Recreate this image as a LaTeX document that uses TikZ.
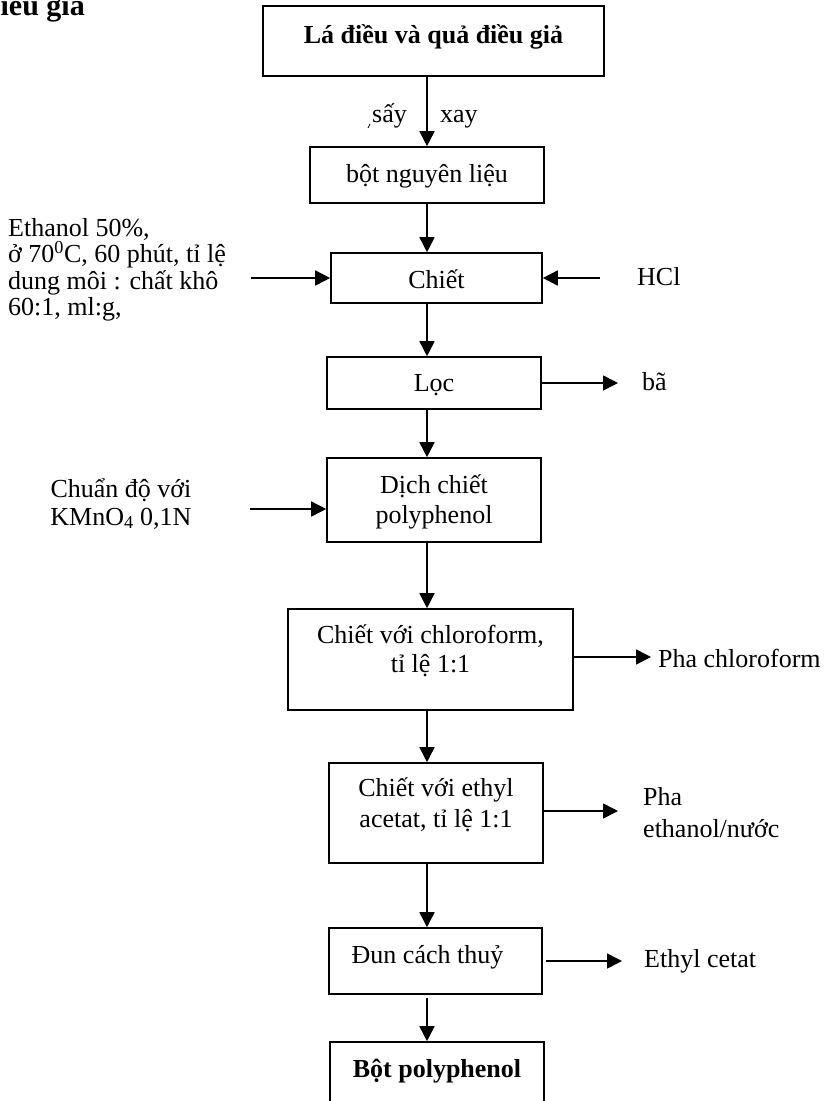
\documentclass[tikz,border=0pt]{standalone}
\usepackage{fontspec}
\setmainfont{Liberation Serif}
\usetikzlibrary{arrows.meta}
\begin{document}
\begin{tikzpicture}[x=1pt,y=-1pt,
  box/.style={draw, line width=1.6pt, inner sep=0pt, align=center, text height=22pt, font=\fontsize{26}{30}\selectfont},
  lbl/.style={inner sep=0pt, font=\fontsize{26}{30}\selectfont},
  arr/.style={line width=1.6pt, -{Triangle[length=15pt,width=15pt]}},
]
\useasboundingbox (0,0) rectangle (830,1101);
\fill[white] (0,0) rectangle (830,1101);

% heading fragment
\node[lbl, anchor=base east, font=\bfseries\fontsize{30}{34}\selectfont] (head) at (85,15) {điều giả};

% main boxes
\node[box, minimum width=341pt, minimum height=70pt, text depth=18pt, font=\bfseries\fontsize{26}{30}\selectfont] (top) at (433.5,41) {Lá điều và quả điều giả};
\node[box, minimum width=234pt, minimum height=56pt, text depth=8pt] (bot) at (427,175) {bột nguyên liệu};
\node[box, minimum width=211pt, minimum height=50pt, text depth=2pt] (chiet) at (436.5,278) {Chiết};
\node[box, minimum width=214pt, minimum height=52pt, text depth=5pt] (loc) at (434,383) {Lọc};
\node[box, minimum width=214pt, minimum height=84pt, text height=52pt, text depth=6pt] (dich) at (434,500) {Dịch chiết\\ polyphenol};
\node[box, minimum width=285pt, minimum height=101pt, text height=51pt, text depth=26pt, font=\fontsize{26}{29}\selectfont] (chloro) at (430.5,659.5) {Chiết với chloroform,\\ tỉ lệ 1:1};
\node[box, minimum width=214pt, minimum height=100pt, text height=53pt, text depth=25pt, font=\fontsize{26}{31}\selectfont] (ethyl) at (436,813) {Chiết với ethyl\\ acetat, tỉ lệ 1:1};
\node[box, minimum width=213pt, minimum height=66pt, text depth=18pt] (dun) at (435.5,961) {Đun cách thuỷ\hspace*{16pt}};
\node[box, minimum width=214pt, minimum height=68pt, text depth=20pt, font=\bfseries\fontsize{26}{30}\selectfont] (final) at (437,1076) {Bột polyphenol};

% side texts
\node[lbl, anchor=north west, align=left, text height=101.5pt, font=\fontsize{26}{26.5}\selectfont] (eth) at (8,214) {Ethanol 50\%,\\ ở 70\textsuperscript{0}C, 60 phút, tỉ lệ\\ dung môi : chất khô\\ 60:1, ml:g,};
\node[lbl, anchor=base west] (hcl) at (637,285) {HCl};
\node[lbl, anchor=base west] (ba) at (642,390) {bã};
\node[lbl, anchor=north, align=center, text height=50pt, font=\fontsize{26}{28}\selectfont] (kmno) at (121,475) {Chuẩn độ với\\ KMnO\textsubscript{4} 0,1N};
\node[lbl, anchor=base west] (phach) at (658,667) {Pha chloroform};
\node[lbl, anchor=north west, align=left, text height=54pt, font=\fontsize{26}{32}\selectfont] (phaet) at (643,783) {Pha\\ ethanol/nước};
\node[lbl, anchor=base west] (etc) at (644,967) {Ethyl cetat};
\node[lbl, anchor=base west] (say) at (372,122) {sấy};
\node[lbl, anchor=base west] (xay) at (440,122) {xay};
\draw[line width=0.8pt] (368,128) -- (370,124);

% coordinates
\coordinate (col) at (427,0);
\coordinate (ethS) at (251,278);
\coordinate (hclS) at (600,278);
\coordinate (baE) at (618,383);
\coordinate (kmS) at (250,509);
\coordinate (chE) at (651,657);
\coordinate (etE) at (618,811);
\coordinate (dunE) at (622,961);

% vertical flow
\draw[arr] (top.south -| col) -- (bot.north -| col);
\draw[arr] (bot.south -| col) -- (chiet.north -| col);
\draw[arr] (chiet.south -| col) -- (loc.north -| col);
\draw[arr] (loc.south -| col) -- (dich.north -| col);
\draw[arr] (dich.south -| col) -- (chloro.north -| col);
\draw[arr] (chloro.south -| col) -- (ethyl.north -| col);
\draw[arr] (ethyl.south -| col) -- (dun.north -| col);
\draw[arr] ([yshift=-3pt]dun.south -| col) -- (final.north -| col);

% side arrows
\draw[arr] (ethS) -- (chiet.west);
\draw[arr] (hclS) -- (chiet.east);
\draw[arr] (loc.east) -- (baE);
\draw[arr] (kmS) -- (kmS -| dich.west);
\draw[arr] (chE -| chloro.east) -- (chE);
\draw[arr] (etE -| ethyl.east) -- (etE);
\draw[arr] ([xshift=3pt]dun.east) -- (dunE);
\end{tikzpicture}
\end{document}
